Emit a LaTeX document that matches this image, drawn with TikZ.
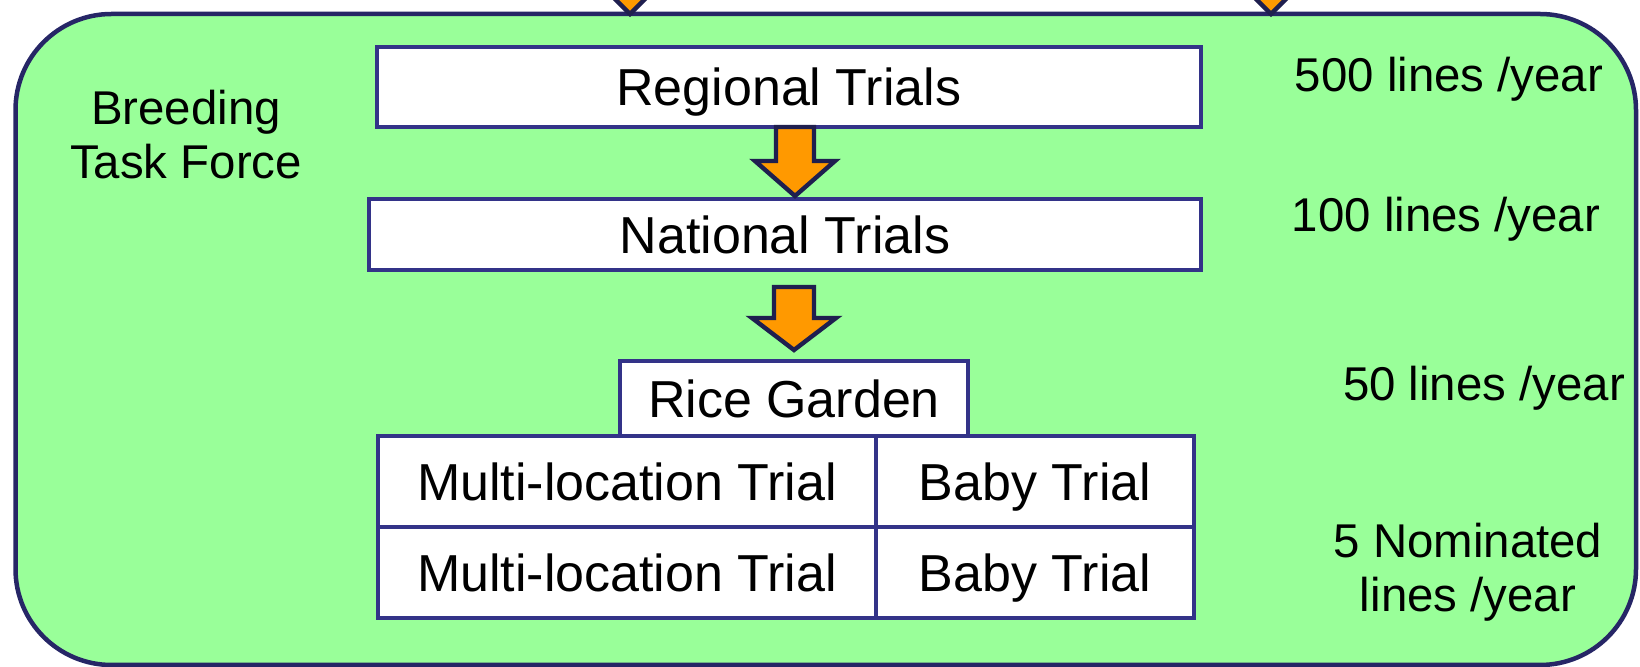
\documentclass[tikz,border=0pt]{standalone}
\usepackage{fontspec}
\setmainfont{Liberation Sans}
\definecolor{bggreen}{HTML}{99FF99}
\definecolor{navy}{HTML}{333388}
\definecolor{darknavy}{HTML}{262666}
\definecolor{arrowline}{HTML}{1F1F4F}
\definecolor{orangefill}{HTML}{FF9900}
\begin{document}
\begin{tikzpicture}[x=0.5pt,y=-0.5pt,
  stagebox/.style={draw=navy, line width=2pt, fill=white, inner sep=0pt,
    text height=18.6pt, text depth=0pt,
    font=\fontsize{26}{30}\selectfont},
  sidelabel/.style={align=center, inner sep=0pt, font=\fontsize{23.7}{27}\selectfont},
  blockarrow/.style={draw=arrowline, fill=orangefill, line width=2.2pt, line join=miter}]
\clip (0,0) rectangle (1640,667);
% outer task-force panel
\draw[fill=bggreen, draw=darknavy, line width=2.25pt, rounded corners=48pt]
  (15.5,14) rectangle (1636,665);
% incoming arrows from above
\draw[blockarrow] (630,14) -- (672,-28) -- (652,-28) -- (652,-80) -- (608,-80) -- (608,-28) -- (588,-28) -- cycle;
\draw[blockarrow] (1271,14) -- (1313,-28) -- (1293,-28) -- (1293,-80) -- (1249,-80) -- (1249,-28) -- (1229,-28) -- cycle;
% stage boxes
\node[stagebox, minimum width=412pt, minimum height=40pt] (reg) at (788.7,86.7) {Regional Trials};
\node[stagebox, minimum width=416pt, minimum height=35.35pt] (nat) at (784.9,234.7) {National Trials};
\node[stagebox, minimum width=174pt, minimum height=37.25pt] (rice) at (794,398.7) {Rice Garden};
\node[stagebox, minimum width=249pt, minimum height=45.5pt] (ml1) at (627,481.5) {Multi-location Trial};
\node[stagebox, minimum width=159pt, minimum height=45.5pt] (baby1) at (1035,481.5) {Baby Trial};
\node[stagebox, minimum width=249pt, minimum height=45.5pt] (ml2) at (627,572.5) {Multi-location Trial};
\node[stagebox, minimum width=159pt, minimum height=45.5pt] (baby2) at (1035,572.5) {Baby Trial};
% block arrows between stages
\draw[blockarrow] (776,127) -- (814,127) -- (814,161) -- (835,161) -- (795,196) -- (755,161) -- (776,161) -- cycle;
\draw[blockarrow] (774,287) -- (814,287) -- (814,318) -- (836,318) -- (794,350) -- (752,318) -- (774,318) -- cycle;
% side labels
\node[sidelabel] (btf) at (186,135) {Breeding\\Task Force};
\node[sidelabel] (l500) at (1449,79) {500 lines /year};
\node[sidelabel] (l100) at (1446,219) {100 lines /year};
\node[sidelabel] (l50) at (1484,388) {50 lines /year};
\node[sidelabel] (l5) at (1468,572) {5 Nominated\\lines /year};
\end{tikzpicture}
\end{document}
